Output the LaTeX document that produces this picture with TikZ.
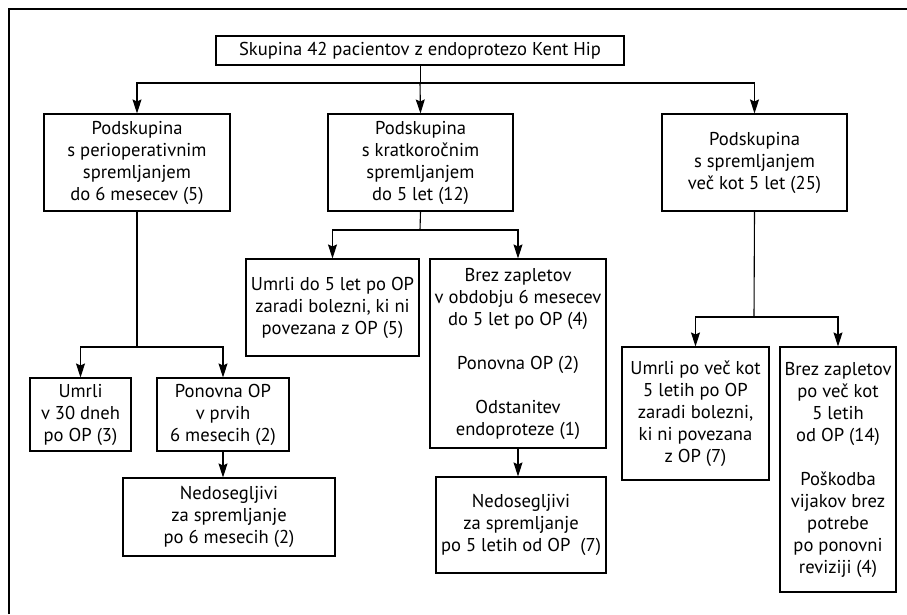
\documentclass[tikz,border=0pt]{standalone}
\usepackage{fontspec}
\setmainfont{PT Sans}
\usetikzlibrary{arrows.meta}

\begin{document}
\begin{tikzpicture}[x=1pt,y=-1pt,
        box/.style={draw, line width=1.1pt, align=center, inner sep=0pt, font=\fontsize{18.6}{22}\selectfont},
        arr/.style={line width=1.1pt, -{Stealth[length=14pt,width=9pt,inset=2pt]}}]
        \useasboundingbox (0,0) rectangle (907,614);

        % Okvir
        \draw[line width=1.3pt] (9,614) -- (9,9) -- (907,9);

        % Vozlisca
        \node[box, minimum width=408, minimum height=29] (top) at (420,50.5) {Skupina 42 pacientov z endoprotezo Kent Hip};

        \node[box, minimum width=186, minimum height=97] (A) at (137,162.5)   {Podskupina\\ s perioperativnim\\ spremljanjem\\ do 6 mesecev (5)};
        \node[box, minimum width=185, minimum height=97] (B) at (420.5,162.5) {Podskupina\\ s kratkoročnim\\ spremljanjem\\ do 5 let (12)};
        \node[box, minimum width=185, minimum height=97] (C) at (754.5,162.5) {Podskupina\\ s spremljanjem\\ več kot 5 let (25)};

        \node[box, minimum width=101, minimum height=73] (A1) at (80.5,414.5) {Umrli\\ v 30 dneh\\ po OP (3)};
        \node[box, minimum width=132, minimum height=73] (A2) at (223,414.5)  {Ponovna OP\\ v prvih\\ 6 mesecih (2)};
        \node[box, minimum width=212, minimum height=78] (A3) at (229,517)    {Nedosegljivi\\ za spremljanje\\ po 6 mesecih (2)};

        \node[box, minimum width=173, minimum height=97]  (B1) at (332.5,307.5) {Umrli do 5 let po OP\\ zaradi bolezni, ki ni\\ povezana z OP (5)};
        \node[box, minimum width=176, minimum height=189] (B2) at (518,353.5)   {Brez zapletov\\ v obdobju 6 mesecev\\ do 5 let po OP (4)\\[22pt] Ponovna OP (2)\\[22pt] Odstanitev\\ endoproteze (1)};
        \node[box, minimum width=170, minimum height=96]  (B3) at (521,525)     {Nedosegljivi\\ za spremljanje\\ po 5 letih od OP~~(7)};

        \node[box, minimum width=147, minimum height=133] (C1) at (695.5,413.5) {Umrli po več kot\\ 5 letih po OP\\ zaradi bolezni,\\ ki ni povezana\\ z OP (7)};
        \node[box, minimum width=116, minimum height=245] (C2) at (838,469.5)   {Brez zapletov\\ po več kot\\ 5 letih\\ od OP (14)\\[22pt] Poškodba\\ vijakov brez\\ potrebe\\ po ponovni\\ reviziji (4)};

        % Razcepi
        \coordinate (jt) at (420,83);
        \coordinate (ja) at (137,347);
        \coordinate (jb) at (420,230);
        \coordinate (jc) at (754,317);

        % Povezave
        \draw[line width=0.6pt] (top.south) -- (jt);
        \draw[arr] (jt) -| (A.north);
        \draw[arr] (jt) -- (B.north);
        \draw[arr] (jt) -| (C.north);

        \draw[line width=1.1pt] (A.south) -- (ja);
        \draw[arr] (ja) -| (A1.north);
        \draw[arr] (ja) -| (A2.north);
        \draw[arr] (A2.south) -- (A2.south |- A3.north);

        \draw[line width=1.1pt] (B.south) -- (jb);
        \draw[arr] (jb) -| (B1.north);
        \draw[arr] (jb) -| (B2.north);
        \draw[arr] (B2.south) -- (B2.south |- B3.north);

        \draw[line width=1.1pt] (C.south) -- (jc);
        \draw[arr] (jc) -| (C1.north);
        \draw[arr] (jc) -| (C2.north);
    \end{tikzpicture}
\end{document}
